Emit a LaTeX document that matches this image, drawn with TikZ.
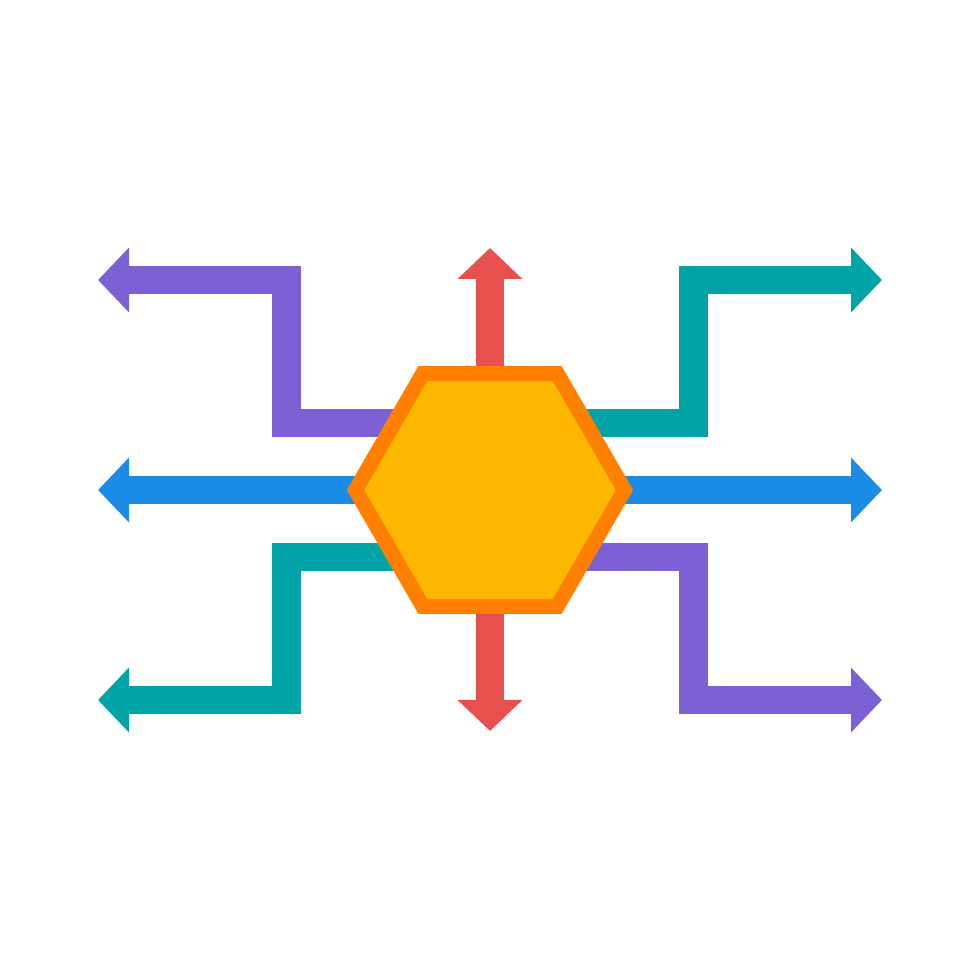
\documentclass[tikz,border=0pt]{standalone}
\usetikzlibrary{shapes.geometric,arrows.meta}

\definecolor{flowpurple}{HTML}{7B61D4}
\definecolor{flowteal}{HTML}{00A3A6}
\definecolor{flowblue}{HTML}{1A8CE8}
\definecolor{flowred}{HTML}{E8504F}
\definecolor{huborange}{HTML}{FF7F00}
\definecolor{hubyellow}{HTML}{FDB700}

\tikzset{
    flow head/.tip={Triangle[length=3.1mm,width=6.3mm]},
    flow arrow/.style={
        line width=2.85mm,line join=miter,
        -flow head
    },
    hub/.style={
        regular polygon,regular polygon sides=6,
        minimum size=26.9mm,inner sep=0pt,outer sep=0pt,
        draw=huborange,fill=hubyellow,line width=1.5mm
    }
}

\begin{document}
\begin{tikzpicture}[x=0.1mm,y=0.1mm]
        \useasboundingbox[fill=white] (0,0) rectangle (980,980);
        \coordinate (hub) at (490,490);
        \coordinate (upend) at (490,732);
        \coordinate (downend) at (490,249);
        \coordinate (leftend) at (98,490);
        \coordinate (rightend) at (882,490);
        \draw[flow arrow,flowblue,flow head-flow head] (leftend) -- (rightend);
        \draw[flow arrow,flowred] (hub) -- (upend);
        \draw[flow arrow,flowred] (hub) -- (downend);
        \foreach \col/\sx/\sy in {flowpurple/-1/1,flowteal/1/1,flowteal/-1/-1,flowpurple/1/-1}
            \draw[flow arrow,\col] ([yshift=\sy*6.7mm]hub) -- ++(\sx*203.5,0) -- ++(0,\sy*143) -- ++(\sx*188.5,0);
        \node[hub] (hex) at (hub) {};
    \end{tikzpicture}
\end{document}
